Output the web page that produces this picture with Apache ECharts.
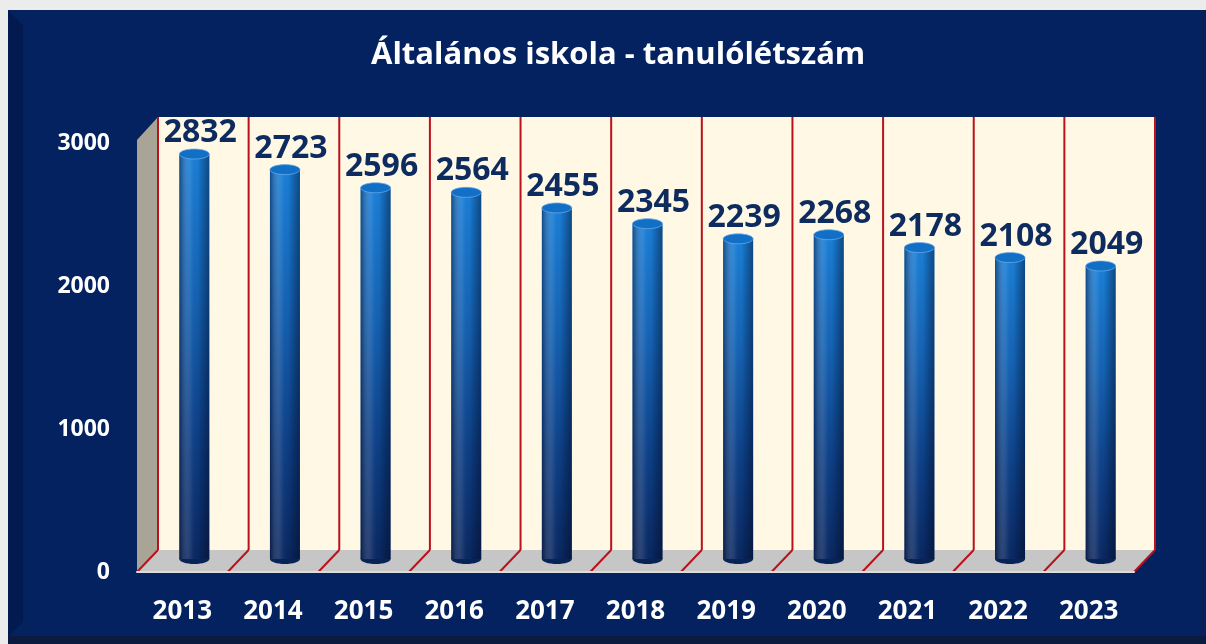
<!DOCTYPE html>
<html>
<head>
<meta charset="utf-8">
<title>Általános iskola - tanulólétszám</title>
<script src="https://cdn.jsdelivr.net/npm/echarts@6/dist/echarts.min.js"></script>
<style>
  html, body { margin: 0; padding: 0; background: #ececec; }
  #chart { width: 1206px; height: 644px; }
</style>
</head>
<body>
<div id="chart"></div>
<script>
const years = ['2013', '2014', '2015', '2016', '2017', '2018', '2019', '2020', '2021', '2022', '2023']
const students = [2832, 2723, 2596, 2564, 2455, 2345, 2239, 2268, 2178, 2108, 2049]
const yMin = 0
const yMax = 3000
const yStep = 1000

const navy = '#042260'
// offset of the back wall against the front plane, in pixels
const depth = { x: 21, y: -22 }
// the cylinders stand half way into the depth
const barShift = { x: 12, y: -13 }

const chart = echarts.init(document.getElementById('chart'))

function renderWalls(params, api) {
  const cs = params.coordSys
  const base = api.coord([0, 0])[1]
  const n = years.length
  const step = cs.width / n
  const dx = depth.x
  const dy = depth.y
  const children = [
    {
      type: 'rect',
      shape: { x: cs.x + dx, y: cs.y + dy - 4, width: cs.width, height: base - cs.y + 4 },
      style: { fill: '#fef8e5' }
    },
    {
      type: 'polygon',
      shape: { points: [[cs.x, base], [cs.x + dx, base + dy], [cs.x + dx, cs.y + dy - 4], [cs.x, cs.y - 3]] },
      style: { fill: '#a9a596' }
    },
    {
      type: 'polygon',
      shape: { points: [[cs.x, base], [cs.x + dx, base + dy], [cs.x + cs.width + dx, base + dy], [cs.x + cs.width, base]] },
      style: { fill: '#c6c6c6' }
    }
  ]
  for (let k = 0; k <= n; k++) {
    const xf = cs.x + k * step
    const xb = xf + dx
    children.push({
      type: 'line',
      shape: { x1: xb, y1: cs.y + dy - 4, x2: xb, y2: base + dy },
      style: { stroke: '#bb111a', lineWidth: 2 }
    })
    children.push({
      type: 'line',
      shape: { x1: xb, y1: base + dy, x2: xf, y2: base },
      style: { stroke: '#bb111a', lineWidth: 2 }
    })
  }
  return { type: 'group', children }
}

function renderBar(params, api) {
  const i = api.value(0)
  const v = api.value(1)
  const b = api.coord([i, 0])
  const t = api.coord([i, v])
  const cx = b[0] + barShift.x
  const by = b[1] + barShift.y
  const ty = t[1] + barShift.y
  const r = 15
  const ry = 5
  const shade = new echarts.graphic.LinearGradient(0, 0, 1, 0, [
    { offset: 0, color: 'rgba(0,8,35,0.45)' },
    { offset: 0.38, color: 'rgba(255,255,255,0.08)' },
    { offset: 0.6, color: 'rgba(0,0,0,0)' },
    { offset: 1, color: 'rgba(0,8,35,0.45)' }
  ])
  return {
    type: 'group',
    children: [
      {
        type: 'ellipse',
        shape: { cx: cx, cy: by, rx: r, ry: ry },
        style: { fill: '#082457' }
      },
      {
        type: 'rect',
        shape: { x: cx - r, y: ty, width: 2 * r, height: by - ty },
        style: {
          fill: new echarts.graphic.LinearGradient(0, 0, 0, 1, [
            { offset: 0, color: '#1a7fd8' },
            { offset: 0.35, color: '#1462b4' },
            { offset: 0.7, color: '#0d3f86' },
            { offset: 1, color: '#0a2862' }
          ])
        }
      },
      {
        type: 'rect',
        shape: { x: cx - r, y: ty, width: 2 * r, height: by - ty },
        style: { fill: shade }
      },
      {
        type: 'ellipse',
        shape: { cx: cx, cy: ty, rx: r, ry: ry },
        style: { fill: '#126fc6', stroke: 'rgba(110,175,240,0.7)', lineWidth: 1 }
      },
      {
        type: 'text',
        style: {
          text: String(v),
          x: cx + 6,
          y: ty - 21,
          fill: '#0d2b5e',
          font: 'bold 32px "Open Sans"',
          align: 'center',
          verticalAlign: 'middle'
        }
      }
    ]
  }
}

chart.setOption({
  backgroundColor: '#ececec',
  animation: false,
  graphic: [
    { type: 'rect', z: -10, shape: { x: 8, y: 10, width: 1198, height: 634 }, style: { fill: navy } },
    { type: 'polygon', z: -9, shape: { points: [[8, 10], [23, 25], [23, 622], [8, 637]] }, style: { fill: '#021a50' } },
    { type: 'rect', z: -9, shape: { x: 1201, y: 10, width: 5, height: 634 }, style: { fill: '#0a1f55' } },
    { type: 'rect', z: -9, shape: { x: 8, y: 636, width: 1198, height: 8 }, style: { fill: '#0b1a3f' } }
  ],
  title: {
    text: 'Általános iskola - tanulólétszám',
    left: 366,
    top: 35,
    textStyle: {
      color: '#ffffff',
      fontSize: 31,
      fontWeight: 'bold',
      fontFamily: 'Open Sans'
    }
  },
  grid: {
    left: 137,
    right: 72,
    top: 143,
    bottom: 72
  },
  xAxis: {
    type: 'category',
    data: years,
    z: 10,
    axisLine: {
      lineStyle: { color: '#dcdcdc', width: 2 }
    },
    axisTick: {
      length: 6,
      lineStyle: { color: '#dcdcdc', width: 2 }
    },
    axisLabel: {
      color: '#ffffff',
      fontSize: 26,
      fontWeight: 'bold',
      fontFamily: 'Open Sans',
      margin: 27
    }
  },
  yAxis: {
    type: 'value',
    min: yMin,
    max: yMax,
    interval: yStep,
    axisLine: { show: false },
    axisTick: { show: false },
    splitLine: { show: false },
    axisLabel: {
      color: '#ffffff',
      fontSize: 23,
      fontWeight: 'bold',
      fontFamily: 'Open Sans',
      margin: 27,
      formatter: (v) => String(v)
    }
  },
  series: [
    {
      type: 'custom',
      z: 1,
      silent: true,
      clip: false,
      renderItem: renderWalls,
      data: [[0, 0]]
    },
    {
      type: 'custom',
      z: 3,
      silent: true,
      clip: false,
      renderItem: renderBar,
      data: years.map((y, i) => [i, students[i]])
    }
  ]
})
</script>
</body>
</html>
